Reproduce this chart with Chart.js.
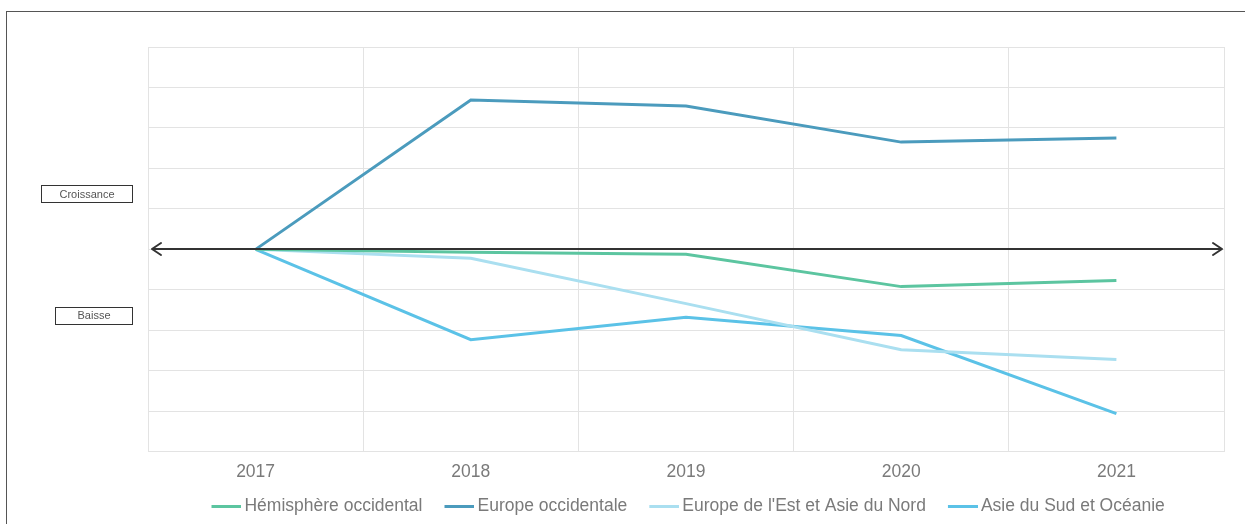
<!DOCTYPE html>
<html>
<head>
<meta charset="utf-8">
<script src="https://cdn.jsdelivr.net/npm/chart.js@4"></script>
<style>
html,body{margin:0;padding:0;background:#fff;width:1245px;height:524px;overflow:hidden;}
#wrap{position:relative;width:1245px;height:524px;}
#frame{position:absolute;left:6px;top:11px;width:1400px;height:700px;border:1px solid #555;box-sizing:border-box;pointer-events:none;}
canvas{position:absolute;left:0;top:0;}
</style>
</head>
<body>
<div id="wrap">
<div id="frame"></div>
<canvas id="c" width="1245" height="524"></canvas>
</div>
<script>
const categories = ['2017', '2018', '2019', '2020', '2021'];
const seriesNames = ['Hémisphère occidental', 'Europe occidentale', "Europe de l'Est et Asie du Nord", 'Asie du Sud et Océanie'];
const hemisphereOccidental = [0, -0.07, -0.12, -0.92, -0.77];
const europeOccidentale = [0, 3.69, 3.54, 2.65, 2.75];
const europeEstAsieNord = [0, -0.22, -1.34, -2.48, -2.72];
const asieSudOceanie = [0, -2.23, -1.68, -2.13, -4.06];
const zoneLabels = ['Croissance', 'Baisse'];
const zoneValues = [1.37, -1.63];

const colors = ['#5cc5a0', '#4b9bbd', '#aadff0', '#5bc2e7'];
const seriesData = [hemisphereOccidental, europeOccidentale, europeEstAsieNord, asieSudOceanie];

const FONT = '"Liberation Sans", Arial, sans-serif';
const FS = 17.5;
const IMG_W = 49;
const BOX_W = 37.5;

function legendImage(color) {
  const c = document.createElement('canvas');
  c.width = IMG_W; c.height = 3;
  const g = c.getContext('2d');
  g.fillStyle = color;
  g.fillRect(IMG_W - 30, 0, 30, 3);
  return c;
}
const legendImages = colors.map(legendImage);

const overlay = {
  id: 'overlay',
  afterLayout(chart) {
    const lg = chart.legend;
    if (lg) {
      lg.left -= 4.5; lg.right -= 4.5;
      lg.top -= 4; lg.bottom -= 4;
    }
  },
  afterDatasetsDraw(chart) {
    const ctx = chart.ctx;
    const area = chart.chartArea;
    const y0 = Math.round(chart.scales.y.getPixelForValue(0));
    const x1 = area.left + 4, x2 = area.right - 2;
    ctx.save();
    ctx.strokeStyle = '#333';
    ctx.lineWidth = 2;
    ctx.lineCap = 'round';
    ctx.lineJoin = 'round';
    ctx.beginPath();
    ctx.moveTo(x1, y0); ctx.lineTo(x2, y0);
    ctx.moveTo(x1 + 9, y0 - 6); ctx.lineTo(x1, y0); ctx.lineTo(x1 + 9, y0 + 6);
    ctx.moveTo(x2 - 9, y0 - 6); ctx.lineTo(x2, y0); ctx.lineTo(x2 - 9, y0 + 6);
    ctx.stroke();
    ctx.restore();
  },
  afterDraw(chart) {
    const ctx = chart.ctx;
    const area = chart.chartArea;
    const widths = [91, 77];
    ctx.save();
    ctx.font = '11px ' + FONT;
    ctx.textAlign = 'center';
    ctx.textBaseline = 'middle';
    zoneLabels.forEach((t, i) => {
      const cy = chart.scales.y.getPixelForValue(zoneValues[i]);
      const right = area.left - 16;
      const w = widths[i], h = 17;
      const left = right - w;
      ctx.strokeStyle = '#333';
      ctx.lineWidth = 1;
      ctx.strokeRect(Math.round(left) + 0.5, Math.round(cy - h / 2) + 0.5, w, h);
      ctx.fillStyle = '#555';
      ctx.fillText(t, left + w / 2 + 0.5, Math.round(cy) + 1);
    });
    ctx.restore();
  }
};

new Chart(document.getElementById('c'), {
  type: 'line',
  data: {
    labels: categories,
    datasets: seriesNames.map((n, i) => ({
      label: n,
      data: seriesData[i],
      borderColor: colors[i],
      backgroundColor: colors[i],
      borderWidth: 3,
      pointRadius: 0,
      pointHoverRadius: 0,
      tension: 0,
      fill: false
    }))
  },
  options: {
    responsive: false,
    animation: false,
    devicePixelRatio: 1,
    layout: { padding: { left: 148, right: 21, top: 47, bottom: -5 } },
    plugins: {
      tooltip: { enabled: false },
      legend: {
        position: 'bottom',
        labels: {
          usePointStyle: true,
          pointStyleWidth: BOX_W,
          padding: 8.75,
          color: '#7a7a7a',
          font: { family: FONT, size: FS },
          generateLabels(chart) {
            return chart.data.datasets.map((ds, i) => ({
              text: ds.label,
              fillStyle: ds.borderColor,
              strokeStyle: ds.borderColor,
              lineWidth: 0,
              pointStyle: legendImages[i],
              hidden: false,
              datasetIndex: i,
              fontColor: '#7a7a7a'
            }));
          }
        }
      }
    },
    scales: {
      x: {
        offset: true,
        grid: { color: '#e3e3e3', lineWidth: 1, drawTicks: false, offset: true },
        border: { color: '#e3e3e3' },
        ticks: { color: '#7a7a7a', padding: 10, font: { family: FONT, size: FS } }
      },
      y: {
        min: -5,
        max: 5,
        ticks: { display: false, stepSize: 1 },
        grid: { color: '#e3e3e3', lineWidth: 1, drawTicks: false },
        border: { display: false }
      }
    }
  },
  plugins: [overlay]
});
</script>
</body>
</html>
